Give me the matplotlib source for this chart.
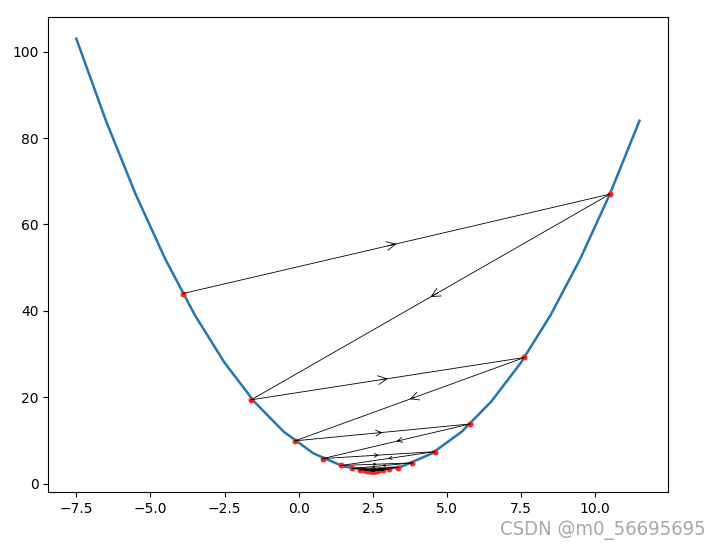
import matplotlib
matplotlib.use("Agg")
import matplotlib.pyplot as plt

# parabola sampled at unit steps
curve_x = [-7.5, -6.5, -5.5, -4.5, -3.5, -2.5, -1.5, -0.5, 0.5, 1.5,
           2.5, 3.5, 4.5, 5.5, 6.5, 7.5, 8.5, 9.5, 10.5, 11.5]
curve_y = [103, 84, 67, 52, 39, 28, 19, 12, 7, 4,
           3, 4, 7, 12, 19, 28, 39, 52, 67, 84]

# gradient descent iterates (red dots)
pts_x = [10.5, -3.9, 7.62, -1.6, 5.78, -0.12, 4.6, 0.82, 3.84, 1.43,
         3.36, 1.81, 3.05, 2.06, 2.85, 2.22, 2.72, 2.32, 2.64, 2.39,
         2.59, 2.43, 2.56, 2.45, 2.54, 2.47, 2.53, 2.48]
pts_y = [67.0, 44.0, 29.2, 19.4, 13.8, 9.9, 7.4, 5.8, 4.8, 4.2,
         3.7, 3.5, 3.3, 3.2, 3.1, 3.1, 3.05, 3.03, 3.02, 3.01,
         3.01, 3.0, 3.0, 3.0, 3.0, 3.0, 3.0, 3.0]

# order in which the arrows connect the iterates
path = [1, 0, 3, 2, 5, 4, 7, 6, 9, 8, 11, 10, 13, 12, 15, 14,
        17, 16, 19, 18, 21, 20, 23, 22, 25, 24, 27, 26]

fig = plt.figure(figsize=(7.08, 5.5), dpi=100)
ax = fig.add_axes([0.068, 0.105, 0.875, 0.864])

ax.plot(curve_x, curve_y, color="C0", linewidth=1.8)
ax.plot(pts_x, pts_y, ".", color="#ff2020", markersize=6.5, zorder=3)
ax.set_xlim(-8.45, 12.45)
ax.set_ylim(-2, 108)

for a, b in zip(path[:-1], path[1:]):
    x0, y0, x1, y1 = pts_x[a], pts_y[a], pts_x[b], pts_y[b]
    ax.plot([x0, x1], [y0, y1], color="black", linewidth=0.6, zorder=4)
    # head size follows the on-screen length of the segment
    p0 = ax.transData.transform((x0, y0))
    p1 = ax.transData.transform((x1, y1))
    seg = ((p1 - p0) ** 2).sum() ** 0.5
    ms = min(16, seg * 0.06)
    if ms < 2:
        continue
    mx, my = x0 + 0.5 * (x1 - x0), y0 + 0.5 * (y1 - y0)
    sx, sy = x0 + 0.48 * (x1 - x0), y0 + 0.48 * (y1 - y0)
    ax.annotate("", xy=(mx, my), xytext=(sx, sy),
                arrowprops=dict(arrowstyle="->", color="black", lw=0.6,
                                mutation_scale=ms, shrinkA=0, shrinkB=0),
                zorder=4)

fig.text(0.996, 0.036, "CSDN @m0_56695695", ha="right", va="center",
         fontsize=14.5, color="#a8a8a8", fontstretch="condensed")

fig.savefig("out.png", dpi=100)
